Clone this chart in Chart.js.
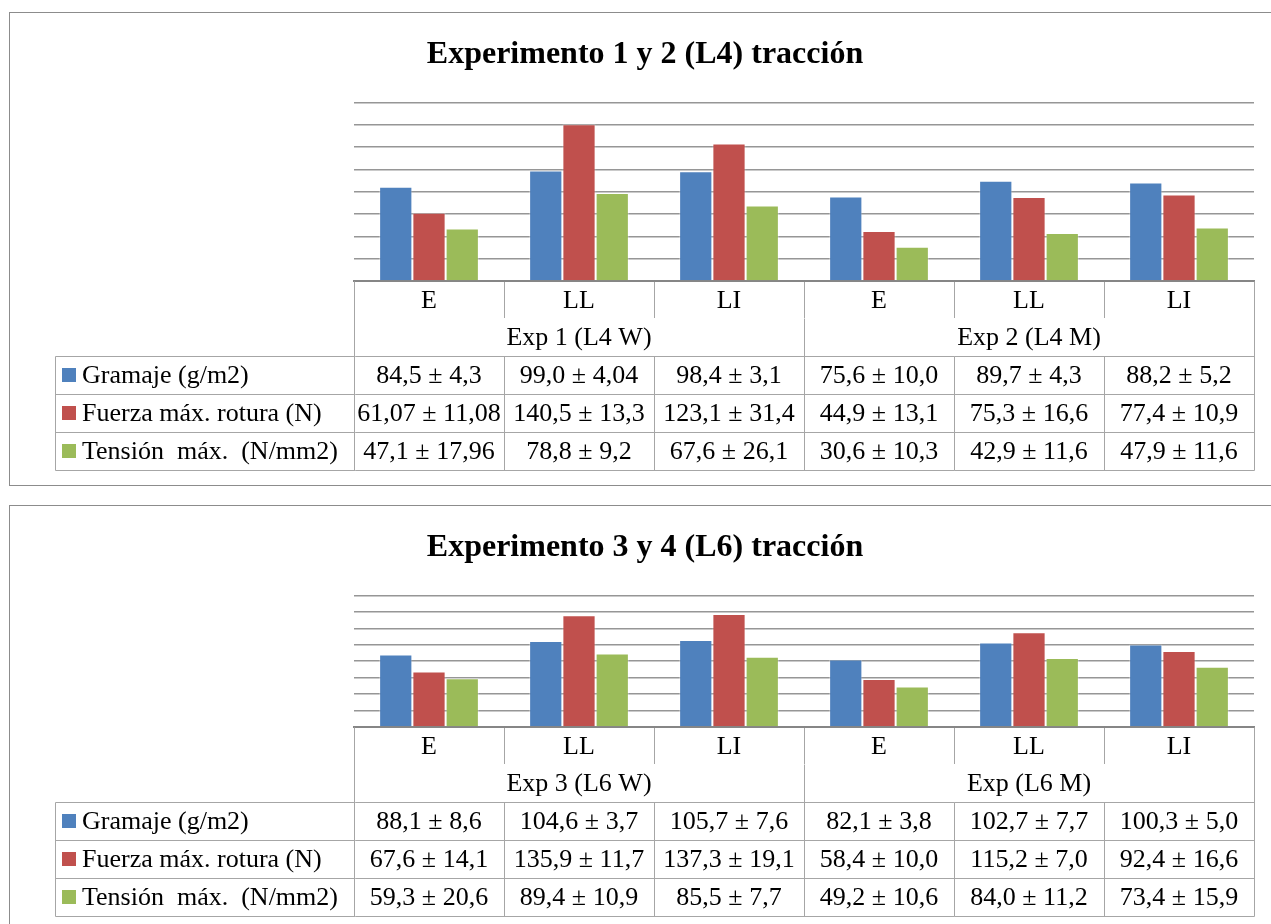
<!DOCTYPE html>
<html>
<head>
<meta charset="utf-8">
<script src="https://cdn.jsdelivr.net/npm/chart.js@4.4.0/dist/chart.umd.min.js"></script>
<style>
  html, body { margin: 0; padding: 0; background: #fff; overflow: hidden; width: 1271px; height: 924px; }
  .panel { position: absolute; left: 9px; width: 1300px; border: 1px solid #8c8c8c; }
  .inner { position: relative; width: 1270px; height: 100%; }
  #p1 { top: 12px; height: 472px; }
  #p2 { top: 505px; height: 425px; }
</style>
</head>
<body>
<div class="panel" id="p1"><div class="inner"><canvas id="c1"></canvas></div></div>
<div class="panel" id="p2"><div class="inner"><canvas id="c2"></canvas></div></div>
<script>
// shared
const categories = ['E', 'LL', 'LI', 'E', 'LL', 'LI'];
const seriesNames = ['Gramaje (g/m2)', 'Fuerza máx. rotura (N)', 'Tensión  máx.  (N/mm2)'];
const seriesColors = ['#4F81BD', '#C0504D', '#9BBB59'];
const yMin = 0, yMax = 160, yStep = 20;

// Experimento 1 y 2 (L4)
const groups1 = ['Exp 1 (L4 W)', 'Exp 2 (L4 M)'];
const gramaje1 = [84.5, 99.0, 98.4, 75.6, 89.7, 88.2];
const fuerza1 = [61.07, 140.5, 123.1, 44.9, 75.3, 77.4];
const tension1 = [47.1, 78.8, 67.6, 30.6, 42.9, 47.9];
const gramajeTxt1 = ['84,5 ± 4,3', '99,0 ± 4,04', '98,4 ± 3,1', '75,6 ± 10,0', '89,7 ± 4,3', '88,2 ± 5,2'];
const fuerzaTxt1 = ['61,07 ± 11,08', '140,5 ± 13,3', '123,1 ± 31,4', '44,9 ± 13,1', '75,3 ± 16,6', '77,4 ± 10,9'];
const tensionTxt1 = ['47,1 ± 17,96', '78,8 ± 9,2', '67,6 ± 26,1', '30,6 ± 10,3', '42,9 ± 11,6', '47,9 ± 11,6'];

// Experimento 3 y 4 (L6)
const groups2 = ['Exp 3 (L6 W)', 'Exp (L6 M)'];
const gramaje2 = [88.1, 104.6, 105.7, 82.1, 102.7, 100.3];
const fuerza2 = [67.6, 135.9, 137.3, 58.4, 115.2, 92.4];
const tension2 = [59.3, 89.4, 85.5, 49.2, 84.0, 73.4];
const gramajeTxt2 = ['88,1 ± 8,6', '104,6 ± 3,7', '105,7 ± 7,6', '82,1 ± 3,8', '102,7 ± 7,7', '100,3 ± 5,0'];
const fuerzaTxt2 = ['67,6 ± 14,1', '135,9 ± 11,7', '137,3 ± 19,1', '58,4 ± 10,0', '115,2 ± 7,0', '92,4 ± 16,6'];
const tensionTxt2 = ['59,3 ± 20,6', '89,4 ± 10,9', '85,5 ± 7,7', '49,2 ± 10,6', '84,0 ± 11,2', '73,4 ± 15,9'];

const serif = '"Liberation Serif", "Times New Roman", serif';
const lineCol = '#a6a6a6';
const textSize = 26;

// data table drawn under the x axis, columns follow the x scale
const dataTable = {
  id: 'dataTable',
  afterDraw(chart, args, opts) {
    const ctx = chart.ctx;
    const x = chart.scales.x;
    const top = chart.chartArea.bottom;
    const rowY = [0, 37, 75, 113, 151, 189].map(v => top + v);
    const n = categories.length;
    const edge = i => i === 0 ? x.left : i === n ? x.right
      : (x.getPixelForValue(i - 1) + x.getPixelForValue(i)) / 2;
    const tableLeft = 45;
    ctx.save();
    ctx.strokeStyle = lineCol;
    ctx.lineWidth = 1;
    const line = (x1, y1, x2, y2) => {
      ctx.beginPath();
      ctx.moveTo(Math.round(x1) + 0.5, Math.round(y1) + 0.5);
      ctx.lineTo(Math.round(x2) + 0.5, Math.round(y2) + 0.5);
      ctx.stroke();
    };
    for (let r = 2; r <= 5; r++) line(tableLeft, rowY[r], x.right, rowY[r]);
    line(tableLeft, rowY[2], tableLeft, rowY[5]);
    line(x.left, rowY[0], x.left, rowY[5]);
    line(x.right, rowY[0], x.right, rowY[5]);
    line(edge(3), rowY[1], edge(3), rowY[5]);
    for (let i = 1; i < n; i++) line(edge(i), rowY[2], edge(i), rowY[5]);

    ctx.fillStyle = '#000';
    ctx.font = textSize + 'px ' + serif;
    ctx.textAlign = 'center';
    ctx.textBaseline = 'middle';
    opts.groups.forEach((g, k) => {
      ctx.fillText(g, x.getPixelForValue(k * 3 + 1), (rowY[1] + rowY[2]) / 2 + 1);
    });
    opts.rows.forEach((row, r) => {
      const yc = (rowY[r + 2] + rowY[r + 3]) / 2 + 1;
      ctx.textAlign = 'center';
      ctx.fillStyle = '#000';
      row.forEach((t, i) => ctx.fillText(t, x.getPixelForValue(i), yc));
      ctx.fillStyle = seriesColors[r];
      ctx.fillRect(52, Math.round(yc) - 8, 14, 14);
      ctx.fillStyle = '#000';
      ctx.textAlign = 'left';
      ctx.fillText(seriesNames[r], 72, yc);
    });
    ctx.restore();
  }
};

function makeChart(id, title, values, groups, rows) {
  return new Chart(document.getElementById(id), {
    type: 'bar',
    data: {
      labels: categories,
      datasets: values.map((v, i) => ({
        label: seriesNames[i],
        data: v,
        backgroundColor: seriesColors[i],
        borderColor: 'rgba(255,255,255,0.35)',
        borderWidth: 1,
        barPercentage: 1,
        categoryPercentage: 0.665
      }))
    },
    options: {
      responsive: true,
      maintainAspectRatio: false,
      animation: false,
      layout: { padding: { bottom: 14 } },
      plugins: {
        legend: { display: false },
        tooltip: { enabled: false },
        title: {
          display: true,
          text: title,
          color: '#000',
          font: { family: serif, size: 32, weight: 'bold' },
          padding: { top: 23, bottom: 28 }
        },
        dataTable: { groups: groups, rows: rows }
      },
      scales: {
        x: {
          grid: { display: true, drawOnChartArea: false, drawTicks: true, tickLength: 37, color: lineCol, offset: true },
          border: { display: true, color: '#868686', width: 2 },
          ticks: { color: '#000', font: { family: serif, size: textSize }, padding: -32 },
          afterFit: s => { s.height = 190; }
        },
        y: {
          min: yMin,
          max: yMax,
          ticks: { display: false, stepSize: yStep },
          grid: { color: '#969696', lineWidth: 1.5, drawTicks: false },
          border: { display: false },
          afterFit: s => { s.width = 344; }
        },
        r: {
          position: 'right',
          ticks: { display: false },
          grid: { display: false, drawTicks: false },
          border: { display: false },
          afterFit: s => { s.width = 26; }
        }
      }
    },
    plugins: [dataTable]
  });
}

makeChart('c1', 'Experimento 1 y 2 (L4) tracción',
  [gramaje1, fuerza1, tension1], groups1, [gramajeTxt1, fuerzaTxt1, tensionTxt1]);
makeChart('c2', 'Experimento 3 y 4 (L6) tracción',
  [gramaje2, fuerza2, tension2], groups2, [gramajeTxt2, fuerzaTxt2, tensionTxt2]);
</script>
</body>
</html>
